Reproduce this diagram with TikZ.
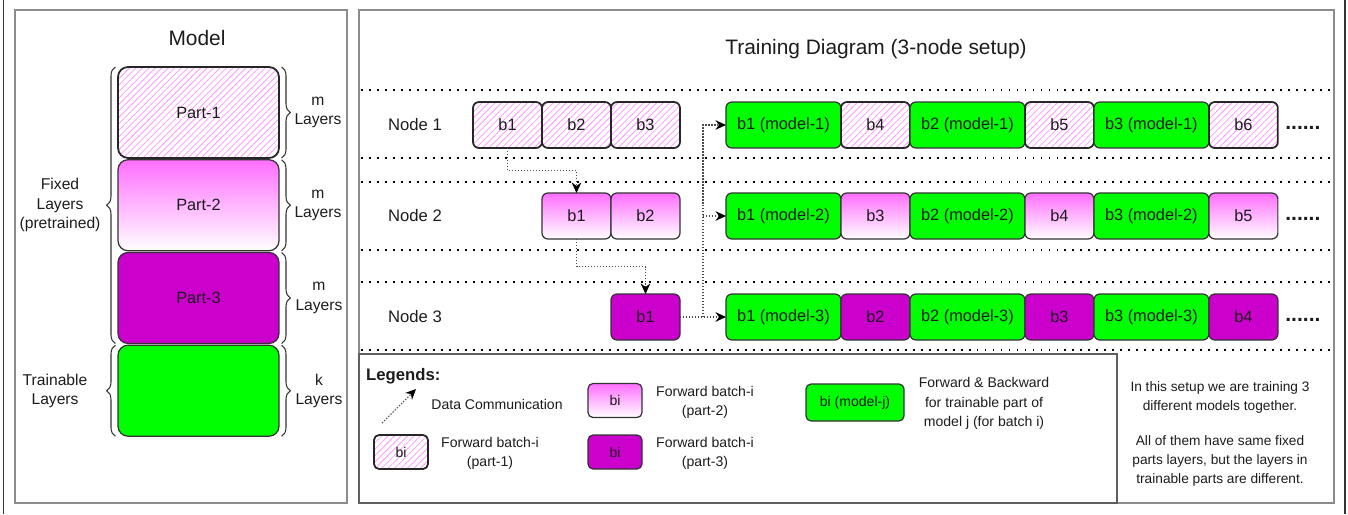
\documentclass[tikz,border=0pt]{standalone}
\usepackage{fontspec}
\setmainfont{Liberation Sans}
\usepackage{tikz}
\usetikzlibrary{positioning}
\usetikzlibrary{calc,arrows.meta,patterns.meta}
\usetikzlibrary{decorations.pathreplacing}

\definecolor{HatchPink}{HTML}{FF99FF}
\definecolor{FadePink}{HTML}{FF6EFF}
\definecolor{PartPurple}{HTML}{CC00CC}
\definecolor{PartGreen}{HTML}{00FF00}
\definecolor{FrameGray}{HTML}{8C8C8C}
\definecolor{LegendGray}{HTML}{5F5F5F}
\definecolor{EdgeDark}{HTML}{333333}
\definecolor{TextDark}{HTML}{1C1C1C}

\tikzset{
	panel/.style={draw=FrameGray, line width=1.1pt},
	legendframe/.style={draw=LegendGray, line width=0.8pt},
	outerline/.style={draw=EdgeDark, line width=0.7pt},
	rowsep/.style={draw=black, line width=1.1pt, dash pattern=on 1.1pt off 3.45pt},
	hatched/.style={draw=black!85, line width=1pt, pattern={Lines[angle=45,distance=2.6pt,line width=0.45pt]}, pattern color=HatchPink},
	faded/.style={top color=FadePink, bottom color=white},
	purple/.style={fill=PartPurple},
	green/.style={fill=PartGreen},
	part/.style={draw=EdgeDark, line width=0.7pt, outer sep=0pt, rounded corners=0.2cm, minimum width=3.22cm, minimum height=1.82cm, font=\fontsize{9.3}{11}\selectfont},
	slot/.style={draw=EdgeDark, line width=0.7pt, outer sep=0pt, rounded corners=0.12cm, minimum width=1.38cm, minimum height=0.92cm, inner sep=0pt, font=\fontsize{9.3}{11}\selectfont},
	wideslot/.style={slot, green, minimum width=2.3cm},
	legslot/.style={draw=EdgeDark, line width=0.7pt, rounded corners=0.1cm, minimum width=1.08cm, minimum height=0.68cm, inner sep=0pt, font=\fontsize{8}{10}\selectfont},
	title/.style={font=\fontsize{11.9}{14}\selectfont},
	rowlabel/.style={font=\fontsize{9.5}{11}\selectfont},
	bracetext/.style={align=center, font=\fontsize{8.9}{11}\selectfont},
	legtext/.style={align=center, font=\fontsize{8}{10.9}\selectfont},
	notetext/.style={align=center, font=\fontsize{7.8}{10.8}\selectfont},
	more/.style={font=\fontsize{12}{14}\bfseries},
	brace/.style={draw=EdgeDark, line width=0.6pt, decorate, decoration={brace, amplitude=5pt}},
	comm/.style={draw=black!70, line width=0.6pt, dash pattern=on 0.8pt off 0.9pt, -{Stealth[black, length=6pt, width=5.5pt, inset=2pt]}},
}

\begin{document}
\begin{tikzpicture}[x=0.02cm, y=-0.02cm, every node/.append style={text=TextDark}]

	% ------------------------------------------------
	% Fix the size of the whole graphic
	\useasboundingbox (0,0) rectangle (1348,514);

	\draw[outerline] (3.5,0) -- (3.5,514);
	\draw[outerline] (1345,0) -- (1345,514);

	% ------------------------------------------------
	% Panels
	\draw[panel] (15,10) rectangle (347,503);
	\draw[panel] (359,10) rectangle (1334,503);
	\draw[legendframe] (359,354) rectangle (1117,503);

	%%%%%%%%%%%%%%%%%%%%%%%%%%%%%%%%%%%%%%%%%
	% Model
	\node[title] (ModelTitle) at (197,38) {Model};

	\node[part, hatched] (Part1) at (198.5,112.5) {Part-1};
	\node[part, faded, below=1pt of Part1] (Part2) {Part-2};
	\node[part, purple, below=1pt of Part2] (Part3) {Part-3};
	\node[part, green, below=1pt of Part3] (PartT) {};

	% ----------------
	% Braces on the right
	\draw[brace] ([xshift=1.5pt]Part1.north east) -- ([xshift=1.5pt]Part1.south east);
	\draw[brace] ([xshift=1.5pt]Part2.north east) -- ([xshift=1.5pt]Part2.south east);
	\draw[brace] ([xshift=1.5pt]Part3.north east) -- ([xshift=1.5pt]Part3.south east);
	\draw[brace] ([xshift=1.5pt]PartT.north east) -- ([xshift=1.5pt]PartT.south east);

	\node[bracetext] (Part1Size) at ($(Part1.east)+(0.78cm,0)$) {m\\Layers};
	\node[bracetext] (Part2Size) at ($(Part2.east)+(0.78cm,0)$) {m\\Layers};
	\node[bracetext] (Part3Size) at ($(Part3.east)+(0.8cm,0)$) {m\\Layers};
	\node[bracetext] (PartTSize) at ($(PartT.east)+(0.8cm,0)$) {k\\Layers};

	% ----------------
	% Braces on the left
	\draw[brace] ([xshift=-1.5pt]Part3.south west) -- ([xshift=-1.5pt]Part1.north west);
	\draw[brace] ([xshift=-1.5pt]PartT.south west) -- ([xshift=-1.5pt]PartT.north west);

	\node[bracetext] (FixedText) at ($(Part2.west)+(-1.16cm,0)$) {Fixed\\Layers\\(pretrained)};
	\node[bracetext] (TrainText) at ($(PartT.west)+(-1.26cm,0)$) {Trainable\\Layers};

	%%%%%%%%%%%%%%%%%%%%%%%%%%%%%%%%%%%%%%%%%
	% Training diagram
	\node[title] (TrainTitle) at (876,49) {Training Diagram (3-node setup)};

	% ----------------
	% Row separators
	\draw[rowsep] (361,90) -- (1333,90);
	\draw[rowsep] (361,158) -- (1333,158);
	\draw[rowsep] (361,182) -- (1333,182);
	\draw[rowsep] (361,250) -- (1333,250);
	\draw[rowsep] (361,282) -- (1333,282);
	\draw[rowsep] (361,350) -- (1333,350);

	% ----------------
	% Node 1
	\node[rowlabel] (Lab1) at (415,125) {Node 1};
	\node[slot, hatched] (N1B1) at (507.5,125) {b1};
	\node[slot, hatched, right=0pt of N1B1] (N1B2) {b2};
	\node[slot, hatched, right=0pt of N1B2] (N1B3) {b3};
	\node[wideslot, right=0.92cm of N1B3] (N1G1) {b1 (model-1)};
	\node[slot, hatched, right=0pt of N1G1] (N1B4) {b4};
	\node[wideslot, right=0pt of N1B4] (N1G2) {b2 (model-1)};
	\node[slot, hatched, right=0pt of N1G2] (N1B5) {b5};
	\node[wideslot, right=0pt of N1B5] (N1G3) {b3 (model-1)};
	\node[slot, hatched, right=0pt of N1G3] (N1B6) {b6};
	\node[more] (More1) at ($(N1B6.east)+(0.5cm,-0.06cm)$) {......};

	% ----------------
	% Node 2
	\node[rowlabel] (Lab2) at (415,216) {Node 2};
	\node[slot, faded] (N2B1) at (576.5,216) {b1};
	\node[slot, faded, right=0pt of N2B1] (N2B2) {b2};
	\node[wideslot, right=0.92cm of N2B2] (N2G1) {b1 (model-2)};
	\node[slot, faded, right=0pt of N2G1] (N2B3) {b3};
	\node[wideslot, right=0pt of N2B3] (N2G2) {b2 (model-2)};
	\node[slot, faded, right=0pt of N2G2] (N2B4) {b4};
	\node[wideslot, right=0pt of N2B4] (N2G3) {b3 (model-2)};
	\node[slot, faded, right=0pt of N2G3] (N2B5) {b5};
	\node[more] (More2) at ($(N2B5.east)+(0.5cm,-0.06cm)$) {......};

	% ----------------
	% Node 3
	\node[rowlabel] (Lab3) at (415,317) {Node 3};
	\node[slot, purple] (N3B1) at (645.5,317) {b1};
	\node[wideslot, right=0.92cm of N3B1] (N3G1) {b1 (model-3)};
	\node[slot, purple, right=0pt of N3G1] (N3B2) {b2};
	\node[wideslot, right=0pt of N3B2] (N3G2) {b2 (model-3)};
	\node[slot, purple, right=0pt of N3G2] (N3B3) {b3};
	\node[wideslot, right=0pt of N3B3] (N3G3) {b3 (model-3)};
	\node[slot, purple, right=0pt of N3G3] (N3B4) {b4};
	\node[more] (More3) at ($(N3B4.east)+(0.5cm,-0.06cm)$) {......};

	% ----------------
	% Data communication
	\draw[comm] (N1B1.south) |- ($(N1B1.south)!0.5!(N2B1.north)$) -| (N2B1.north);
	\draw[comm] (N2B1.south) |- ($(N2B1.south)!0.5!(N3B1.north)$) -| (N3B1.north);

	\coordinate (Fork) at ($(N3B1.east)!0.5!(N3G1.west)$);
	\draw[comm] (N3B1.east) -- (N3G1.west);
	\draw[comm] (Fork) |- (N1G1.west);
	\draw[comm] (Fork |- N2G1.west) -- (N2G1.west);

	%%%%%%%%%%%%%%%%%%%%%%%%%%%%%%%%%%%%%%%%%
	% Legends
	\node[anchor=west, font=\fontsize{9.5}{11}\bfseries] (LegTitle) at (360,376) {Legends:};

	\coordinate (LegFrom) at (382,423);
	\coordinate (LegTo) at (416,389);
	\draw[comm] (LegFrom) -- (LegTo);
	\node[legtext] (LegCommText) at (497,404) {Data Communication};

	\node[legslot, hatched] (LegP1) at (401,452) {bi};
	\node[legtext] (LegP1Text) at (490,453.5) {Forward batch-i\\(part-1)};

	\node[legslot, faded] (LegP2) at (615,400.5) {bi};
	\node[legtext] (LegP2Text) at (705,402) {Forward batch-i\\(part-2)};

	\node[legslot, purple] (LegP3) at (615,452) {bi};
	\node[legtext] (LegP3Text) at (705,453.5) {Forward batch-i\\(part-3)};

	\node[legslot, green, minimum width=1.96cm, minimum height=0.74cm] (LegTr) at (855,402.5) {bi (model-j)};
	\node[legtext] (LegTrText) at (984,403.5) {Forward \& Backward\\for trainable part of\\model j (for batch i)};

	% ----------------
	% Note
	\node[notetext] (Note) at (1220,434) {In this setup we are training 3\\different models together.\\[9pt]All of them have same fixed\\parts layers, but the layers in\\trainable parts are different.};

\end{tikzpicture}
\end{document}
